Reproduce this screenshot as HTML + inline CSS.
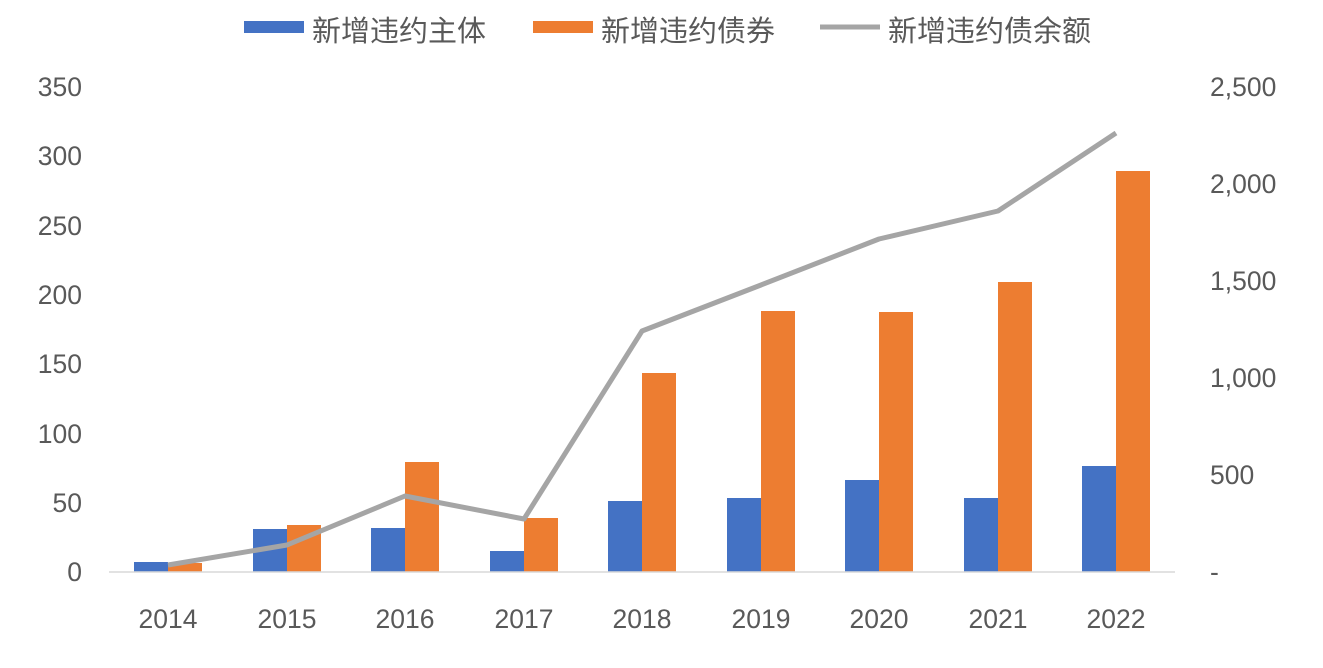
<!DOCTYPE html>
<html><head><meta charset="utf-8"><style>
body{margin:0;background:#fff;}
svg text{font-family:"Liberation Sans","Noto Sans CJK SC",sans-serif;fill:#595959;}
</style></head><body>
<svg width="1323" height="663" xmlns="http://www.w3.org/2000/svg">
<g>
<rect x="244" y="21" width="60" height="12" fill="#4472C4"/>
<text x="312" y="41" font-size="29">新增违约主体</text>
<rect x="533" y="21" width="60" height="12" fill="#ED7D31"/>
<text x="601" y="41" font-size="29">新增违约债券</text>
<line x1="820" y1="27" x2="880" y2="27" stroke="#A5A5A5" stroke-width="5"/>
<text x="888" y="41" font-size="29">新增违约债余额</text>
</g>
<g font-size="26.5" text-anchor="end">
<text x="82" y="581">0</text><text x="82" y="512">50</text><text x="82" y="443">100</text>
<text x="82" y="373">150</text><text x="82" y="304">200</text><text x="82" y="235">250</text>
<text x="82" y="165">300</text><text x="82" y="96">350</text>
</g>
<g font-size="26.5">
<text x="1210" y="581">-</text><text x="1210" y="484">500</text><text x="1210" y="387">1,000</text>
<text x="1210" y="290">1,500</text><text x="1210" y="193">2,000</text><text x="1210" y="96">2,500</text>
</g>
<g>
<rect x="134" y="562" width="34" height="10" fill="#4472C4"/><rect x="168" y="563" width="34" height="9" fill="#ED7D31"/>
<rect x="253" y="529" width="34" height="43" fill="#4472C4"/><rect x="287" y="525" width="34" height="47" fill="#ED7D31"/>
<rect x="371" y="528" width="34" height="44" fill="#4472C4"/><rect x="405" y="462" width="34" height="110" fill="#ED7D31"/>
<rect x="490" y="551" width="34" height="21" fill="#4472C4"/><rect x="524" y="518" width="34" height="54" fill="#ED7D31"/>
<rect x="608" y="501" width="34" height="71" fill="#4472C4"/><rect x="642" y="373" width="34" height="199" fill="#ED7D31"/>
<rect x="727" y="498" width="34" height="74" fill="#4472C4"/><rect x="761" y="311" width="34" height="261" fill="#ED7D31"/>
<rect x="845" y="480" width="34" height="92" fill="#4472C4"/><rect x="879" y="312" width="34" height="260" fill="#ED7D31"/>
<rect x="964" y="498" width="34" height="74" fill="#4472C4"/><rect x="998" y="282" width="34" height="290" fill="#ED7D31"/>
<rect x="1082" y="466" width="34" height="106" fill="#4472C4"/><rect x="1116" y="171" width="34" height="401" fill="#ED7D31"/>
</g>
<line x1="109" y1="572" x2="1175" y2="572" stroke="#D9D9D9" stroke-width="1.5"/>
<polyline fill="none" stroke="#A5A5A5" stroke-width="5" stroke-linejoin="round" points="168,565 287,545 405,496 524,519 642,331 761,285 879,239 998,211 1116,133"/>
<g font-size="26.5" text-anchor="middle">
<text x="168" y="628">2014</text><text x="287" y="628">2015</text><text x="405" y="628">2016</text>
<text x="524" y="628">2017</text><text x="642" y="628">2018</text><text x="761" y="628">2019</text>
<text x="879" y="628">2020</text><text x="998" y="628">2021</text><text x="1116" y="628">2022</text>
</g>
</svg>
</body></html>
